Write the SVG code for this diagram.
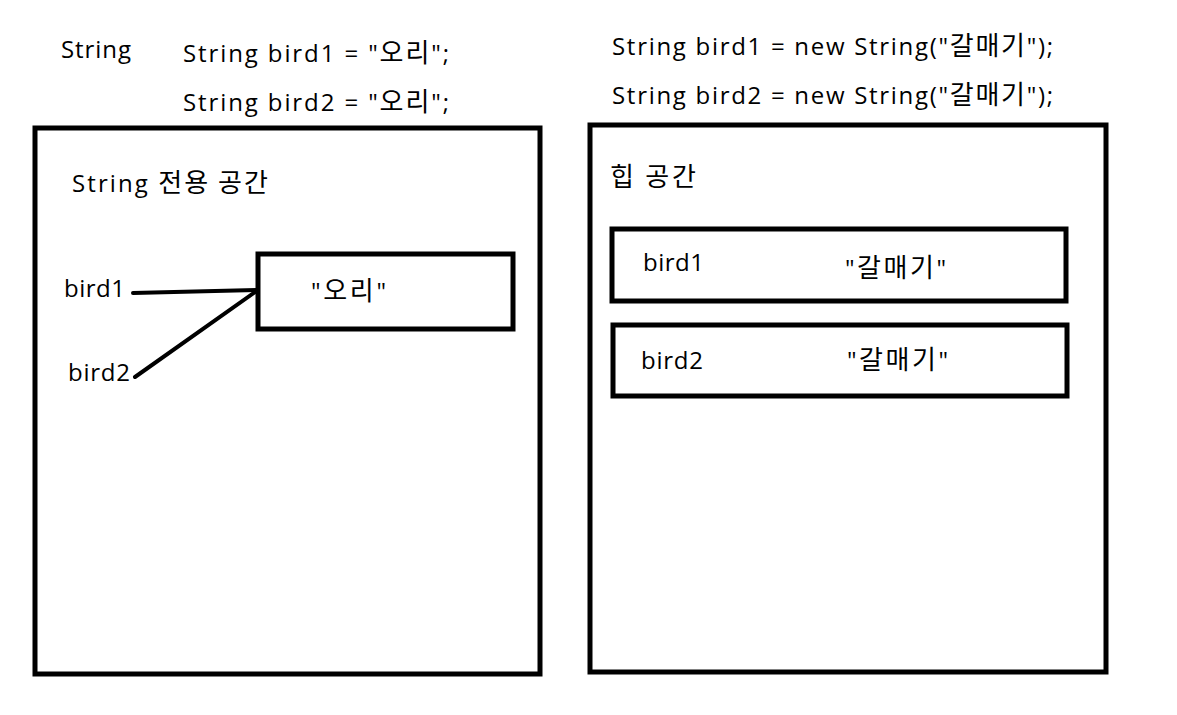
<svg xmlns="http://www.w3.org/2000/svg" width="1177" height="715" viewBox="0 0 1177 715">
<style>
text{font-family:"Open Sans","Noto Sans CJK KR",sans-serif;font-size:24px;fill:#000}
.k{font-family:"Noto Sans CJK KR",sans-serif;font-size:26px}
.box{fill:none;stroke:#000;stroke-width:5}
.conn{stroke:#000;stroke-width:4;stroke-linecap:round;fill:none}
</style>
<rect width="1177" height="715" fill="#fff"/>
<g id="titles">
<text x="61" y="58" textLength="70" lengthAdjust="spacing">String</text>
<text x="183" y="62" textLength="266" lengthAdjust="spacing">String bird1 = "<tspan class="k">오리</tspan>";</text>
<text x="183" y="111" textLength="266" lengthAdjust="spacing">String bird2 = "<tspan class="k">오리</tspan>";</text>
<text x="612" y="55" textLength="441" lengthAdjust="spacing">String bird1 = new String("<tspan class="k">갈매기</tspan>");</text>
<text x="612" y="104" textLength="441" lengthAdjust="spacing">String bird2 = new String("<tspan class="k">갈매기</tspan>");</text>
</g>
<g id="string-pool">
<rect class="box" x="35" y="128" width="505" height="546"/>
<text x="72" y="192" textLength="196" lengthAdjust="spacing">String <tspan class="k">전용 공간</tspan></text>
</g>
<g id="bird1-ref"><text x="64" y="297" textLength="61" lengthAdjust="spacing">bird1</text></g>
<g id="bird2-ref"><text x="68" y="381" textLength="62" lengthAdjust="spacing">bird2</text></g>
<g id="ori">
<rect class="box" x="258" y="254" width="255" height="75"/>
<text x="311" y="300" textLength="75" lengthAdjust="spacing">"<tspan class="k">오리</tspan>"</text>
</g>
<g id="heap">
<rect class="box" x="590" y="125" width="516" height="547"/>
<text x="610" y="186" textLength="86" lengthAdjust="spacing" class="k">힙 공간</text>
</g>
<g id="heap-bird1">
<rect class="box" x="612" y="229" width="454" height="72"/>
<text x="643" y="271" textLength="61" lengthAdjust="spacing">bird1</text>
<text x="845" y="277" textLength="101" lengthAdjust="spacing">"<tspan class="k">갈매기</tspan>"</text>
</g>
<g id="heap-bird2">
<rect class="box" x="613" y="325" width="454" height="71"/>
<text x="641" y="369" textLength="62" lengthAdjust="spacing">bird2</text>
<text x="847" y="369" textLength="101" lengthAdjust="spacing">"<tspan class="k">갈매기</tspan>"</text>
</g>
<g id="connectors">
<line class="conn" x1="133" y1="293" x2="258" y2="290"/>
<line class="conn" x1="135" y1="377" x2="258" y2="290"/>
</g>
</svg>
